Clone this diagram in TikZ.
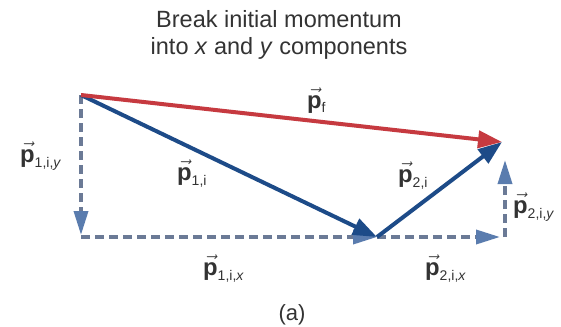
\documentclass[tikz,border=0pt]{standalone}
\usepackage{fontspec}
\setmainfont{Liberation Sans}
\usetikzlibrary{arrows.meta}
\definecolor{redv}{HTML}{C63A40}
\definecolor{bluev}{HTML}{1D4B88}
\definecolor{dashv}{HTML}{6B7A96}
\definecolor{dashh}{HTML}{5A7CAE}
\definecolor{txt}{HTML}{333333}
\newcommand{\pv}[1]{$\vec{\textbf{p}}$\raisebox{-5pt}{\fontsize{14}{14}\selectfont #1}}
\begin{document}
\begin{tikzpicture}[x=1pt,y=-1pt,
  redarrow/.style={draw=redv, line width=4pt, -{Triangle[length=24pt,width=17pt]}},
  bluearrow/.style={draw=bluev, line width=4pt, -{Triangle[length=24pt,width=17pt]}},
  comp/.style={draw=dashv, line width=3.5pt, dash pattern=on 9pt off 5pt, -{Triangle[length=24pt,width=14pt,color=dashh]}},
  lab/.style={text=txt, font=\fontsize{23.8}{26}\selectfont, inner sep=0pt, anchor=base west},
  ttl/.style={text=txt, font=\fontsize{23.5}{27}\selectfont, inner sep=0pt, align=center}]
\fill[white] (0,0) rectangle (561,326);
\useasboundingbox (0,0) rectangle (561,326);
\coordinate (A) at (81,95);
\coordinate (B) at (81,237);
\coordinate (M) at (377,237);
\coordinate (T) at (502,142);
\coordinate (C) at (505,237);
% components
\draw[comp, shorten >=2pt] (A) -- (B);
\draw[comp] (B) -- (M);
\draw[comp, shorten >=5pt] (M) -- (C);
\draw[comp, shorten >=18pt] (C) -- (C |- T);
% momentum vectors
\draw[bluearrow] (A) -- (M);
\draw[bluearrow] (M) -- (T);
\draw[redarrow] (A) -- (T);
% labels
\node[ttl, anchor=north] (title) at (279,10) {Break initial momentum\\into \textit{x} and \textit{y} components};
\node[lab] (lp1y) at (20,162) {\pv{1,i,\textit{y}}};
\node[lab] (lp1) at (177,180) {\pv{1,i}};
\node[lab] (lp1x) at (203,275) {\pv{1,i,\textit{x}}};
\node[lab] (lp2x) at (425,275) {\pv{2,i,\textit{x}}};
\node[lab] (lpf) at (307,108) {\pv{f}};
\node[lab] (lp2) at (398,182) {\pv{2,i}};
\node[lab] (lp2y) at (513,213) {\pv{2,i,\textit{y}}};
\node[text=txt, font=\fontsize{22}{24}\selectfont, inner sep=0pt, anchor=base] (la) at (292,320) {(a)};
\end{tikzpicture}
\end{document}
